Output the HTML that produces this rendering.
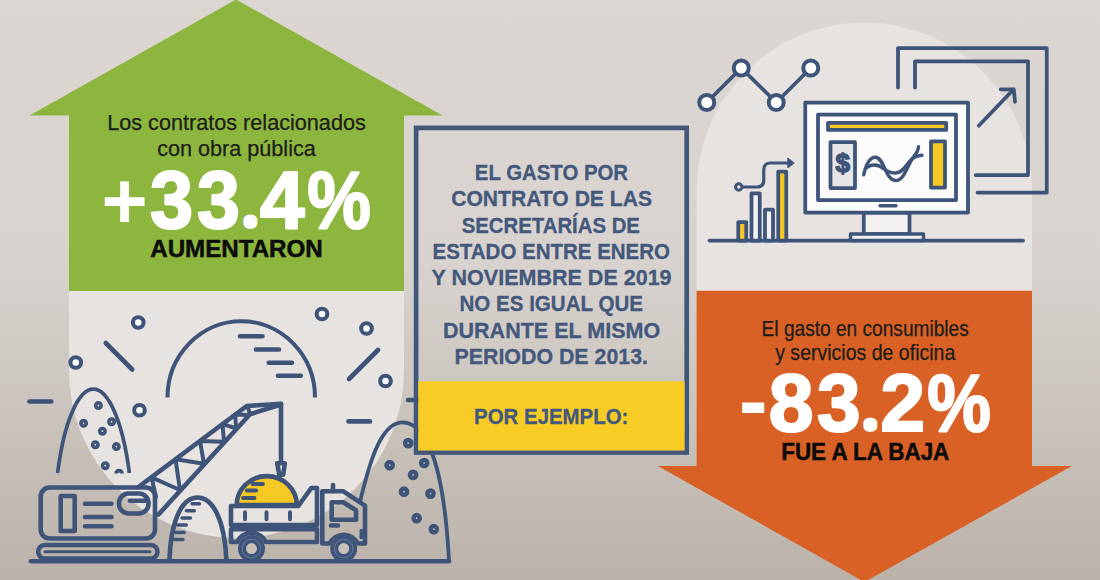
<!DOCTYPE html>
<html lang="es">
<head>
<meta charset="utf-8">
<title>Gasto por contrato</title>
<style>
html,body{margin:0;padding:0;}
body{width:1100px;height:580px;overflow:hidden;background:#dbd6d2;font-family:"Liberation Sans",sans-serif;}
svg{display:block;position:absolute;left:0;top:0;}
text{font-family:"Liberation Sans",sans-serif;}
.n{stroke:#3f5479;stroke-width:4.6;fill:none;stroke-linecap:round;stroke-linejoin:round;}
.b{stroke-linecap:butt;}
.of .n{stroke-width:3.75;}
.of .ring{stroke-width:4;}
.ring{stroke:#3f5479;stroke-width:4.1;fill:#ffffff;}
.dot{stroke:#3f5479;stroke-width:3.6;fill:#e7e3e0;}
.dotd{stroke:#3f5479;stroke-width:4.5;fill:#c9c2bb;}
.sm{font-size:22.3px;fill:#1c1c1a;stroke:#1c1c1a;stroke-width:0.25px;}
.big{font-size:82px;font-weight:bold;fill:#ffffff;stroke:#ffffff;stroke-width:2.2px;stroke-linejoin:round;}
.lab{font-size:24.7px;font-weight:bold;fill:#0b0b0b;stroke:#0b0b0b;stroke-width:0.5px;}
.ct{font-size:22.5px;font-weight:bold;fill:#44587c;stroke:#44587c;stroke-width:0.3px;}
</style>
</head>
<body>
<svg width="1100" height="580" viewBox="0 0 1100 580">
<defs>
<linearGradient id="bg" x1="0" y1="0" x2="0" y2="1">
<stop offset="0" stop-color="#dbd6d2"/>
<stop offset="0.45" stop-color="#d8d3cf"/>
<stop offset="1" stop-color="#bbb3aa"/>
</linearGradient>
</defs>
<rect x="0" y="0" width="1100" height="580" fill="url(#bg)"/>

<!-- light rounded panels -->
<path d="M69 291 H404 V370.5 A167.5 167.5 0 0 1 69 370.5 Z" fill="#e7e3e0"/>
<path d="M696.6 291 V190.5 A167.7 168 0 0 1 1032 190.5 V291 Z" fill="#e7e3e0"/>

<!-- green up arrow -->
<path d="M236 -0.5 L442.5 115.5 H404 V291 H69 V115.5 H29.5 Z" fill="#8db63f"/>
<!-- orange down arrow -->
<path d="M696.6 290.7 H1032 V466 H1072 L864.5 582 L657.8 466 H696.6 Z" fill="#d96125"/>

<!-- ===== construction illustration ===== -->
<g id="construction">
<circle class="ring" cx="138.25" cy="322.5" r="5.3"/>
<circle class="ring" cx="75.75" cy="362.5" r="5.3"/>
<circle class="ring" cx="139.5" cy="410.25" r="5.3"/>
<circle class="ring" cx="322" cy="314" r="5.3"/>
<circle class="ring" cx="366.5" cy="328.5" r="5.3"/>
<circle class="ring" cx="385.5" cy="381" r="5.3"/>
<path class="n" d="M105.75 343 L132.25 369.5"/>
<path class="n" d="M29.5 401.5 H51.25"/>
<path class="n" d="M349 379 L378 350"/>
<path class="n" d="M348.5 421.4 H370"/>
<path class="n" d="M408 400 H428"/>
<path class="n b" style="stroke-width:4" d="M167.5 397.5 A73.75 76.3 0 0 1 315 397.5"/>
<path class="n" d="M240 336.3 H262.5 M256 349.5 H279 M268.7 362.8 H292 M278 375.8 H300.8"/>

<!-- pile left -->
<path class="n b" style="stroke-width:3.7" d="M57.6 473.1 C64.1 421.2 78.4 389.2 93.4 389.2 C108.4 389.2 122.7 421.2 129.4 473.1"/>
<circle class="dot" cx="98.4" cy="405.5" r="2.7"/>
<circle class="dot" cx="83.6" cy="423.3" r="2.7"/>
<circle class="dot" cx="111.6" cy="421.7" r="2.7"/>
<circle class="dot" cx="102.4" cy="431.2" r="2.7"/>
<circle class="dot" cx="95.3" cy="444.7" r="2.7"/>
<circle class="dot" cx="116.4" cy="446.6" r="2.7"/>
<circle class="dot" cx="105.3" cy="465.7" r="2.7"/>
<path class="n b" style="stroke-width:3.8" d="M116.2 473.5 A2.9 2.9 0 0 1 122 473.5"/>

<!-- ground -->
<path class="n" d="M31 561.2 H449"/>

<!-- crane body -->
<rect class="n" x="40.7" y="487.5" width="114.3" height="51" rx="9" ry="9"/>
<rect class="n" x="60.7" y="496" width="14" height="35"/>
<path class="n" d="M85 503.75 H111.5 M85 517 H111.5 M85 526.25 H111.5"/>
<rect class="n" x="119" y="493.5" width="29.5" height="20" rx="9.5" ry="9.5"/>
<path class="n" d="M130 500.75 H145"/>
<rect class="n" x="38.2" y="545" width="119.3" height="13.5" rx="6.7" ry="6.7"/>
<path class="n" style="stroke-width:3" d="M45 551.75 H150"/>

<!-- boom -->
<path class="n" d="M139 486.7 L246.7 406 L281 403.8"/>
<path class="n" d="M158.5 514.5 L250 414.2 L281 404.6"/>
<path class="n" style="stroke-width:4" d="M151.5 477.3 L156 497 M151.5 477.3 L180 490 L175.5 459.3 L204 463.8 L200 441 L224 441.8 L222.5 424 L236 428.4 L235.3 414.5 L248 415 M247.5 406 L250 414.2"/>
<path class="n" d="M281 403.8 V462"/>
<path class="n" d="M277.2 463.2 H284.8 L283.2 474.8 H279.3 Z"/>

<!-- small pile -->
<path class="n" d="M169.5 559 C171 520 182 497.5 197.5 497.5 C213 497.5 224.5 520 226.3 559"/>
<path class="n" style="stroke-width:3.4" d="M192 503.75 H199.5 M186.3 510.75 H194.3 M182 518 H190.5 M177.5 525 H186.3 M175.5 532.5 H184.3 M174.3 539.5 H183"/>

<!-- dome -->
<path class="n" d="M236.7 505 A30 28.8 0 0 1 296.8 505 Z" style="fill:#f6c824"/>
<path class="n" style="stroke-width:3.8" d="M252.5 484 H263 M246.8 490.5 H256.2 M243 498 H254.5"/>

<!-- truck -->
<path class="n" d="M231 506 H298.3 L311.3 488 H317 V525 H231 Z"/>
<path class="n" style="stroke-width:4" d="M245 512.3 V519.2 M266.5 512.3 V519.2 M290 512.3 V519.2"/>
<path class="n" d="M231 529.2 H317 V542 H265.8 A15.9 15.9 0 0 0 237.2 542 H231 Z"/>
<path class="n" d="M329 543.5 H322.3 V491.2 H343 L365 505.6 V543.5 H358.3"/>
<path class="n" d="M333 485 V491"/>
<path class="n" d="M331.7 502.2 H343.2 L356 510.3 V519.7 H331.7 Z"/>
<path class="n" d="M331 525.5 H338"/>
<path class="n" style="stroke-width:3.6" d="M361.3 530.5 V537.5"/>
<circle cx="251.5" cy="548.6" r="9.5" fill="#cac1b9" stroke="#3f5479" stroke-width="8"/>
<circle cx="251.5" cy="548.6" r="9.3" fill="none" stroke="#8fa0bd" stroke-width="0.5"/>
<circle cx="343.7" cy="548.6" r="9.5" fill="#cac1b9" stroke="#3f5479" stroke-width="8"/>
<circle cx="343.7" cy="548.6" r="9.3" fill="none" stroke="#8fa0bd" stroke-width="0.5"/>
<path class="n" style="stroke-width:3.4" d="M329.2 543.5 A15.9 15.9 0 0 1 358.2 543.5" />

<!-- big pile right -->
<path class="n" style="stroke-width:3.8" d="M360 502 C368.5 466.3 380.3 422.4 402.3 422.4 C437.5 422.4 446.3 510.2 449 561"/>
<circle class="dotd" cx="408.2" cy="443.1" r="3.1"/>
<circle class="dotd" cx="389.7" cy="465.2" r="3.1"/>
<circle class="dotd" cx="424.2" cy="463" r="3.1"/>
<circle class="dotd" cx="413.1" cy="474.9" r="3.1"/>
<circle class="dotd" cx="404" cy="491.7" r="3.1"/>
<circle class="dotd" cx="430.5" cy="493.6" r="3.1"/>
<circle class="dotd" cx="416.7" cy="518.2" r="3.1"/>
<circle class="dotd" cx="433.8" cy="529.2" r="3.1"/>
</g>

<!-- ===== centre box ===== -->
<rect x="416.1" y="127.9" width="270.6" height="324.6" fill="none" stroke="#42567a" stroke-width="4.7"/>
<rect x="418.3" y="381.3" width="266.2" height="69.2" fill="#f7cd25"/>

<!-- ===== office illustration ===== -->
<g id="office" class="of">
<path class="n" d="M706.75 102.5 L741.25 68 L776.25 102.5 L810.75 68"/>
<circle class="ring" cx="706.75" cy="102.5" r="7.5"/>
<circle class="ring" cx="741.25" cy="68" r="7.5"/>
<circle class="ring" cx="776.25" cy="102.5" r="7.5"/>
<circle class="ring" cx="810.75" cy="68" r="7.5"/>

<path class="n" d="M898 87.5 V48 H1046.75 V192.5 H977.5"/>
<path class="n" d="M915 87.5 V61.25 H1028 V175 H975.75"/>
<path class="n" d="M978.75 125.75 L1013.75 89.25 M1000.75 89.25 H1013.75 L1015 101.75"/>

<path class="n" d="M709.5 240.5 H1023"/>
<!-- bars -->
<rect class="n" x="738.25" y="222" width="8" height="18.5" style="fill:#f6c824"/>
<rect class="n" x="751.5" y="193.25" width="8.25" height="47.25" style="fill:#f4f2f0"/>
<rect class="n" x="765" y="209.5" width="8" height="31" style="fill:#f4f2f0"/>
<rect class="n" x="778.25" y="171.5" width="8" height="69" style="fill:#f6c824"/>
<path class="n" style="stroke-width:3.2" d="M743 187 H757 Q763.75 187 763.75 180 V170 Q763.75 163 770.5 163 H789"/>
<circle cx="738.75" cy="187" r="3.2" fill="#e7e3e0" stroke="#3f5479" stroke-width="3"/>
<path d="M788 158.6 L793.8 163 L788 167.4 Z" fill="#3f5479" stroke="#3f5479" stroke-width="1.5" stroke-linejoin="round"/>

<!-- monitor -->
<rect class="n" x="863.75" y="212.5" width="45.75" height="21.5" style="fill:#f4f2f0"/>
<rect class="n" x="850.5" y="234" width="73" height="6.5" style="fill:#f4f2f0;stroke-width:3.4"/>
<rect class="n" x="805.25" y="102.5" width="162.75" height="110" style="fill:#fbfbfb"/>
<rect class="n" x="818" y="114.5" width="138" height="85.5"/>
<rect class="n" x="828" y="122.9" width="118.2" height="7" style="fill:#f6c824"/>
<rect class="n" x="830.5" y="142" width="24.5" height="46" style="fill:#e6e6e9"/>
<rect class="n" x="931" y="141.4" width="14" height="46.2" style="fill:#f6c824"/>
<path class="n" style="stroke-width:3.4" d="M880 205.75 H896"/>
<text x="842.8" y="172" text-anchor="middle" style="font-size:26px;font-weight:bold;fill:#3f5479;stroke:#3f5479;stroke-width:1.4px">$</text>
<path class="n" style="stroke-width:3.4" d="M863.7 174.8 C866.5 162 871 157.2 875.4 157.2 C884 157.2 885.5 180.5 895.5 180.5 C905 180.5 908 163 913.5 157 C916.5 153.5 918.3 150.5 918.5 146.7"/>
<path class="n" style="stroke-width:3.4" d="M867 167.6 C871 164 878 164 884 168.8 C888.5 172 892 173 895.5 173 C903 173 906 165 910.5 160.5 C914 157 918 155.5 922 155.3"/>
</g>

<!-- ===== text ===== -->
<text class="sm" x="107.2" y="130.3" textLength="258.6" lengthAdjust="spacingAndGlyphs">Los contratos relacionados</text>
<text class="sm" x="157.2" y="156" textLength="158.6" lengthAdjust="spacingAndGlyphs">con obra pública</text>
<text class="big"><tspan x="101.6" y="228.3" textLength="46.2" lengthAdjust="spacingAndGlyphs" style="font-size:80.5px;stroke-width:0">+</tspan><tspan x="150.1" y="228.3" textLength="43.1" lengthAdjust="spacingAndGlyphs">3</tspan><tspan x="197.0" y="228.3" textLength="42.9" lengthAdjust="spacingAndGlyphs">3</tspan><tspan x="248.0" y="223.2" style="font-size:16.8px;stroke-width:11.5px">.</tspan><tspan x="259.9" y="228.3" textLength="44.6" lengthAdjust="spacingAndGlyphs">4</tspan><tspan x="307.2" y="228.3" textLength="63.6" lengthAdjust="spacingAndGlyphs">%</tspan></text>
<text class="lab" x="150.2" y="257" textLength="172.6" lengthAdjust="spacingAndGlyphs">AUMENTARON</text>

<text class="sm" x="761.6" y="335.8" textLength="207.2" lengthAdjust="spacingAndGlyphs">El gasto en consumibles</text>
<text class="sm" x="775.2" y="359.6" textLength="180.1" lengthAdjust="spacingAndGlyphs">y servicios de oficina</text>
<text class="big"><tspan x="738.8" y="430.1" textLength="28.9" lengthAdjust="spacingAndGlyphs" style="font-size:88px;stroke-width:0">-</tspan><tspan x="768.7" y="431.3" textLength="44.8" lengthAdjust="spacingAndGlyphs">8</tspan><tspan x="817.0" y="431.3" textLength="43.5" lengthAdjust="spacingAndGlyphs">3</tspan><tspan x="868.0" y="426.2" style="font-size:16.8px;stroke-width:11.5px">.</tspan><tspan x="880.3" y="431.3" textLength="44.9" lengthAdjust="spacingAndGlyphs">2</tspan><tspan x="927.2" y="431.3" textLength="63.6" lengthAdjust="spacingAndGlyphs">%</tspan></text>
<text class="lab" x="781.2" y="460.1" textLength="168.1" lengthAdjust="spacingAndGlyphs">FUE A LA BAJA</text>

<text class="ct" x="474.8" y="179.8" textLength="153.3" lengthAdjust="spacingAndGlyphs">EL GASTO POR</text>
<text class="ct" x="451.2" y="206.2" textLength="200.8" lengthAdjust="spacingAndGlyphs">CONTRATO DE LAS</text>
<text class="ct" x="461.7" y="232.5" textLength="178.2" lengthAdjust="spacingAndGlyphs">SECRETARÍAS DE</text>
<text class="ct" x="432.5" y="258.8" textLength="237.5" lengthAdjust="spacingAndGlyphs">ESTADO ENTRE ENERO</text>
<text class="ct" x="431.6" y="285.1" textLength="240.0" lengthAdjust="spacingAndGlyphs">Y NOVIEMBRE DE 2019</text>
<text class="ct" x="459.4" y="311.4" textLength="183.7" lengthAdjust="spacingAndGlyphs">NO ES IGUAL QUE</text>
<text class="ct" x="443.0" y="337.7" textLength="217.2" lengthAdjust="spacingAndGlyphs">DURANTE EL MISMO</text>
<text class="ct" x="454.5" y="364.2" textLength="193.5" lengthAdjust="spacingAndGlyphs">PERIODO DE 2013.</text>
<text class="ct" x="474.1" y="423.5" textLength="154.3" lengthAdjust="spacingAndGlyphs">POR EJEMPLO:</text>
</svg>
</body>
</html>
